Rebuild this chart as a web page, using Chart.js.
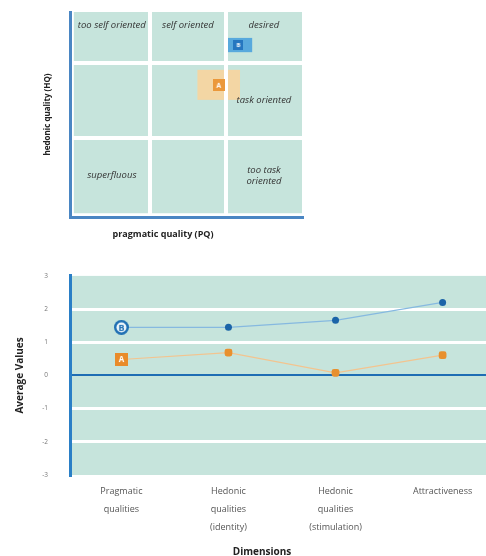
<!DOCTYPE html>
<html>
<head>
<meta charset="utf-8">
<script src="https://cdn.jsdelivr.net/npm/chart.js@4.4.0/dist/chart.umd.min.js"></script>
<style>
  body { margin: 0; background: #fff; font-family: "Open Sans", sans-serif; }
  #wrap { position: relative; width: 486px; height: 556px; overflow: hidden; }
  canvas { position: absolute; left: 0; }
  .axis-title { position: absolute; font-weight: bold; color: #222; white-space: nowrap; transform: translate(-50%, -50%); }
</style>
</head>
<body>
<div id="wrap">
  <canvas id="portfolio" width="310" height="245" style="top:0"></canvas>
  <canvas id="profile" width="491" height="306" style="top:250px"></canvas>
  <div class="axis-title" style="left:163px;top:233px;font-size:9px">pragmatic quality (PQ)</div>
  <div class="axis-title" style="left:262px;top:551px;font-size:10px">Dimensions</div>
</div>
<script>
// Portfolio: PQ / HQ pro Produkt
const products = ['A', 'B']
const pqValues = [0.81, 1.33]
const hqValues = [0.42, 1.48]
const pqConfidence = [0.56, 0.36]
const hqConfidence = [0.4, 0.19]
const zoneNames = [
  ['too self oriented', 'self oriented', 'desired'],
  ['', '', 'task oriented'],
  ['superfluous', '', 'too task\noriented'],
]

// Profil: Mittelwerte je Dimension
const dimensions = [
  ['Pragmatic', 'qualities'],
  ['Hedonic', 'qualities', '(identity)'],
  ['Hedonic', 'qualities', '(stimulation)'],
  ['Attractiveness'],
]
const valuesA = [0.48, 0.69, 0.08, 0.61]
const valuesB = [1.45, 1.45, 1.66, 2.2]
const valueTicks = [-3, -2, -1, 0, 1, 2, 3]

Chart.defaults.font.family = '"Open Sans", sans-serif'

const teal = '#c6e4dc'
const orange = '#e8902e'
const blue = '#1b64a8'

// kleine Marker mit Buchstaben
const makeMarker = (letter, shape, size, fill, ink, inner) => {
  const c = document.createElement('canvas')
  c.width = size
  c.height = size
  const g = c.getContext('2d')
  g.fillStyle = fill
  if (shape === 'circle') {
    g.beginPath()
    g.arc(size / 2, size / 2, size / 2, 0, Math.PI * 2)
    g.fill()
    g.fillStyle = inner
    g.beginPath()
    g.arc(size / 2, size / 2, size / 2 - 2.5, 0, Math.PI * 2)
    g.fill()
  } else {
    g.fillRect(0, 0, size, size)
  }
  g.fillStyle = ink
  g.font = 'bold ' + Math.round(size * 0.6) + 'px "Open Sans"'
  g.textAlign = 'center'
  g.textBaseline = 'middle'
  g.fillText(letter, size / 2, size / 2 + 0.5)
  return c
}

const topMarkers = [
  makeMarker('A', 'rect', 12, '#eb983a', '#fff'),
  makeMarker('B', 'rect', 10, '#2677c0', '#fff'),
]
const profileMarkerA = makeMarker('A', 'rect', 13, '#e98b2a', '#fff')
const profileMarkerB = makeMarker('B', 'circle', 15, '#1f6fb3', '#1f6fb3', '#eef6fb')

const confColors = ['#f3d6a4', '#58a9dd']

const portfolioPlugin = {
  id: 'portfolio',
  beforeDraw(chart) {
    const { ctx, scales: { x, y } } = chart
    ctx.save()
    const left = x.getPixelForValue(-3)
    const right = x.getPixelForValue(3)
    const bottom = y.getPixelForValue(-3)
    ctx.fillStyle = teal
    ctx.fillRect(left, y.top, right - left, bottom - y.top)
    // Konfidenzrechtecke
    products.forEach((p, i) => {
      const x0 = x.getPixelForValue(pqValues[i] - pqConfidence[i])
      const x1 = x.getPixelForValue(pqValues[i] + pqConfidence[i])
      const y0 = y.getPixelForValue(hqValues[i] + hqConfidence[i])
      const y1 = y.getPixelForValue(hqValues[i] - hqConfidence[i])
      ctx.fillStyle = confColors[i]
      ctx.fillRect(x0, y0, x1 - x0, y1 - y0)
    })
    ctx.restore()
  },
  beforeDatasetsDraw(chart) {
    const { ctx, scales: { x, y } } = chart
    ctx.save()
    ctx.font = 'italic 9.5px "Open Sans"'
    ctx.fillStyle = '#333'
    ctx.textAlign = 'center'
    ctx.textBaseline = 'middle'
    zoneNames.forEach((row, r) => {
      row.forEach((name, c) => {
        if (!name) return
        const cx = x.getPixelForValue(-2 + c * 2)
        const cy = y.getPixelForValue(2 - r * 2)
        const lines = name.split('\n')
        lines.forEach((line, k) => {
          ctx.fillText(line, cx, cy + (k - (lines.length - 1) / 2) * 11)
        })
      })
    })
    ctx.restore()
  },
}

const profileBackground = {
  id: 'profileBackground',
  beforeDraw(chart) {
    const { ctx, chartArea } = chart
    ctx.save()
    ctx.fillStyle = teal
    ctx.fillRect(chartArea.left, chartArea.top, chartArea.width, chartArea.height)
    ctx.restore()
  },
}

// Portfolio-Diagramm
new Chart(document.getElementById('portfolio'), {
  type: 'scatter',
  data: {
    datasets: products.map((p, i) => ({
      label: p,
      data: [{ x: pqValues[i], y: hqValues[i] }],
      pointStyle: topMarkers[i],
      pointRadius: 6,
    })),
  },
  options: {
    responsive: false,
    animation: false,
    events: [],
    layout: { padding: { top: 12, right: 8 } },
    plugins: { legend: { display: false }, tooltip: { enabled: false } },
    scales: {
      x: {
        type: 'linear',
        min: -3.1,
        max: 3,
        afterBuildTicks: (s) => { s.ticks = [{ value: -1 }, { value: 1 }] },
        ticks: { display: false },
        grid: { color: '#fff', lineWidth: 4, drawTicks: false },
        border: { color: '#4a86c3', width: 3 },
        afterFit: (s) => { s.height = 28 },
      },
      y: {
        min: -3.1,
        max: 2.36,
        afterBuildTicks: (s) => { s.ticks = [{ value: -1 }, { value: 1 }] },
        ticks: { display: false },
        grid: { color: '#fff', lineWidth: 4, drawTicks: false },
        border: { color: '#4a86c3', width: 3 },
        title: {
          display: true,
          text: 'hedonic quality (HQ)',
          color: '#222',
          font: { size: 8, weight: 'bold' },
          padding: { top: 43, bottom: 0 },
        },
        afterFit: (s) => { s.width = 70 },
      },
    },
  },
  plugins: [portfolioPlugin],
})

// Profil-Diagramm
new Chart(document.getElementById('profile'), {
  type: 'line',
  data: {
    datasets: [
      {
        label: 'A',
        data: valuesA.map((v, i) => ({ x: i, y: v })),
        borderColor: '#f3c48f',
        borderWidth: 1.2,
        pointStyle: [profileMarkerA, 'rectRounded', 'rectRounded', 'rectRounded'],
        pointRadius: 4.5,
        pointBackgroundColor: orange,
        pointBorderWidth: 0,
      },
      {
        label: 'B',
        data: valuesB.map((v, i) => ({ x: i, y: v })),
        borderColor: '#86b9e0',
        borderWidth: 1.2,
        pointStyle: [profileMarkerB, 'circle', 'circle', 'circle'],
        pointRadius: 3.5,
        pointBackgroundColor: blue,
        pointBorderWidth: 0,
      },
    ],
  },
  options: {
    responsive: false,
    animation: false,
    events: [],
    layout: { padding: { top: 15, right: 0 } },
    plugins: { legend: { display: false }, tooltip: { enabled: false } },
    scales: {
      x: {
        type: 'linear',
        min: -0.48,
        max: 3.41,
        afterBuildTicks: (s) => { s.ticks = dimensions.map((d, i) => ({ value: i })) },
        ticks: {
          callback: (v) => dimensions[v],
          color: '#555',
          font: { size: 9, lineHeight: 2 },
          padding: -1,
          maxRotation: 0,
          autoSkip: false,
        },
        grid: { display: false },
        border: { display: false },
        afterFit: (s) => {
          s.height = 81
          s.paddingLeft = 0
          s.paddingRight = 0
        },
      },
      y: {
        min: -3,
        max: 3,
        afterBuildTicks: (s) => { s.ticks = valueTicks.map((v) => ({ value: v })) },
        ticks: { color: '#777', font: { size: 6.5 }, padding: 22 },
        grid: {
          drawTicks: false,
          color: (c) => (c.tick.value === 0 ? '#1e6db4' : Math.abs(c.tick.value) === 3 ? 'rgba(0,0,0,0)' : '#fff'),
          lineWidth: (c) => (c.tick.value === 0 ? 2 : 3),
        },
        border: { color: '#2a7fc6', width: 3 },
        title: {
          display: true,
          text: 'Average Values',
          color: '#222',
          font: { size: 10, weight: 'bold' },
          padding: { top: 14, bottom: 0 },
        },
        afterFit: (s) => { s.width = 70 },
      },
    },
  },
  plugins: [profileBackground],
})
</script>
</body>
</html>
